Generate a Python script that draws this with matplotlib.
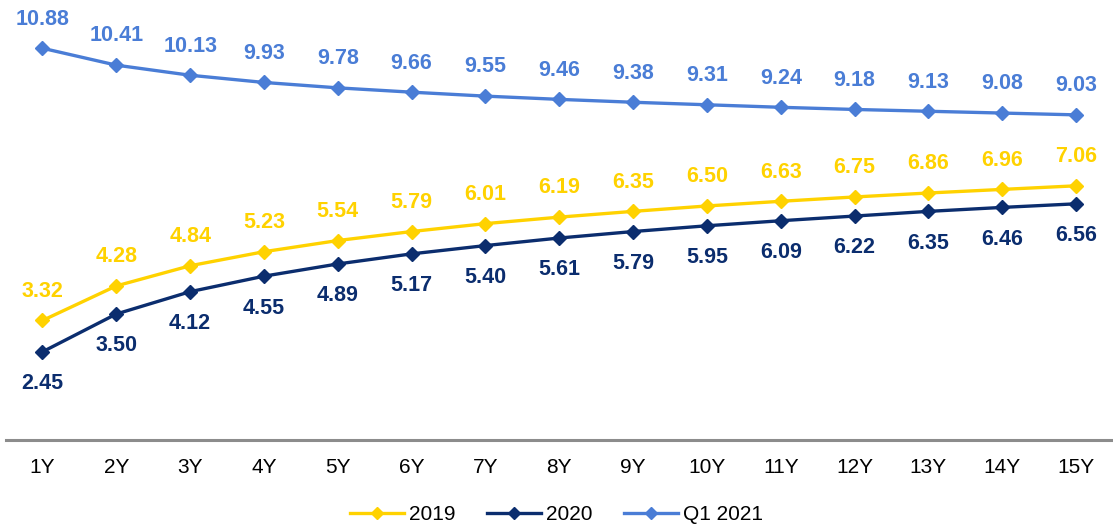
import numpy as np
import matplotlib.pyplot as plt

plt.rcParams['font.family'] = ['Liberation Sans', 'DejaVu Sans']

tenors = ['1Y', '2Y', '3Y', '4Y', '5Y', '6Y', '7Y', '8Y', '9Y', '10Y',
          '11Y', '12Y', '13Y', '14Y', '15Y']
y2019 = [3.32, 4.28, 4.84, 5.23, 5.54, 5.79, 6.01, 6.19, 6.35, 6.50,
         6.63, 6.75, 6.86, 6.96, 7.06]
y2020 = [2.45, 3.50, 4.12, 4.55, 4.89, 5.17, 5.40, 5.61, 5.79, 5.95,
         6.09, 6.22, 6.35, 6.46, 6.56]
q1_2021 = [10.88, 10.41, 10.13, 9.93, 9.78, 9.66, 9.55, 9.46, 9.38, 9.31,
           9.24, 9.18, 9.13, 9.08, 9.03]

c2019 = '#FFD200'
c2020 = '#0B2D6E'
cq1 = '#4A7DD6'

fig = plt.figure(figsize=(11.13, 5.27), dpi=100)
ax = fig.add_axes([0.005, 0.165, 0.995, 0.82])

x = np.arange(len(tenors))
series = [
    (y2019, c2019, '2019', 21),
    (y2020, c2020, '2020', -23),
    (q1_2021, cq1, 'Q1 2021', 21),
]
for vals, col, lab, off in series:
    ax.plot(x, vals, color=col, lw=2.4, marker='D', ms=7.5, label=lab)
    for xi, v in zip(x, vals):
        ax.annotate(f'{v:.2f}', (xi, v), xytext=(0, off),
                    textcoords='offset points', ha='center', va='center',
                    fontsize=15.5, fontweight='bold', color=col)

ax.set_xlim(-0.5, 14.5)
ax.set_ylim(0, 12)
ax.set_xticks(x)
ax.set_xticklabels(tenors, fontsize=15)
ax.tick_params(axis='x', length=0, pad=13)
ax.set_yticks([])
for s in ['left', 'right', 'top']:
    ax.spines[s].set_visible(False)
ax.spines['bottom'].set_color('#8C8C8C')
ax.spines['bottom'].set_linewidth(2.2)

fig.legend(loc='lower center', ncol=3, frameon=False, fontsize=15,
           handlelength=2.6, markerscale=0.8, columnspacing=1.5,
           handletextpad=0.25, bbox_to_anchor=(0.5, -0.03))

fig.savefig('out.png', dpi=100)
